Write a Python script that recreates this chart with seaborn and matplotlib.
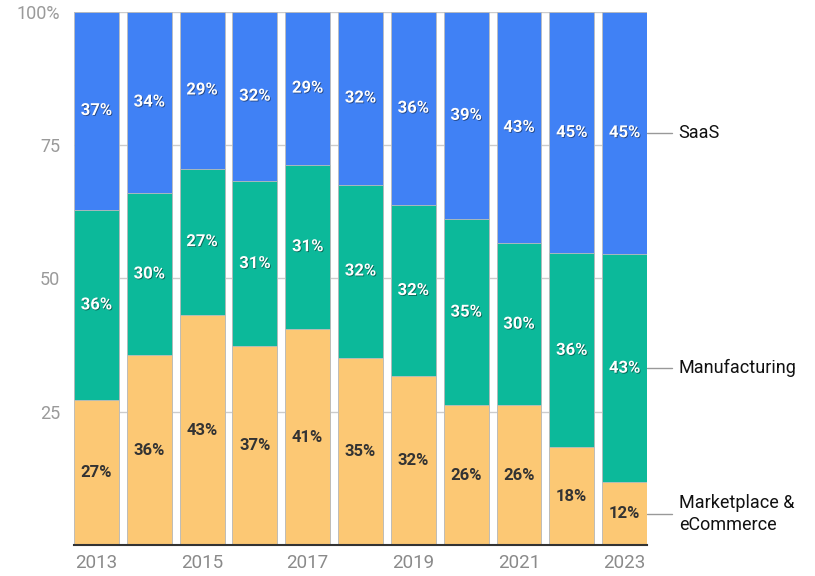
import numpy as np
import pandas as pd
import matplotlib.pyplot as plt
import matplotlib.patheffects as pe
import seaborn as sns

# datos (porcentaje por año)
anios = ["2013", "2014", "2015", "2016", "2017", "2018", "2019", "2020", "2021", "2022", "2023"]
marketplace = [27.2, 35.6, 43.2, 37.3, 40.6, 35.2, 31.7, 26.3, 26.3, 18.4, 11.8]
manufacturing = [35.7, 30.5, 27.4, 31.0, 30.7, 32.4, 32.1, 34.8, 30.3, 36.3, 42.8]
saas = [37.1, 33.9, 29.4, 31.7, 28.7, 32.4, 36.2, 38.9, 43.4, 45.3, 45.4]
series = ["Marketplace &\neCommerce", "Manufacturing", "SaaS"]
ticks_y = [25, 50, 75, 100]
etiquetas_y = ["25", "50", "75", "100%"]

col_mp = "#FCC874"
col_mfg = "#0CB99A"
col_saas = "#4081F5"

sns.set_theme(style="white")
plt.rcParams["font.family"] = ["Roboto", "DejaVu Sans"]

df = pd.DataFrame({"anio": anios, "mp": marketplace, "mfg": manufacturing, "saas": saas})
df["c1"] = df["mp"]
df["c2"] = df["mp"] + df["mfg"]
df["c3"] = df["c2"] + df["saas"]

fig = plt.figure(figsize=(8.15, 5.76), dpi=100)
ax = fig.add_axes([0.0908, 0.053, 0.7031, 0.927])

for col, color in [("c3", col_saas), ("c2", col_mfg), ("c1", col_mp)]:
    sns.barplot(data=df, x="anio", y=col, color=color, saturation=1, width=0.85,
                edgecolor="#bdbdbd", linewidth=0.6, ax=ax, zorder=2)

ax.set_xlim(-0.425, len(anios) - 1 + 0.425)
ax.set_ylim(0, 100)
ax.set_xlabel("")
ax.set_ylabel("")

# cuadricula
ax.set_yticks(ticks_y)
ax.set_yticklabels(etiquetas_y)
ax.yaxis.grid(True, color="#cccccc", linewidth=1, zorder=0)
ax.set_axisbelow(True)
ax.tick_params(axis="y", length=0, pad=10, labelsize=13, labelcolor="#9a9a9a")
ax.tick_params(axis="x", length=0, pad=6, labelsize=13.5, labelcolor="#8a8a8a")
ax.set_xticks(range(len(anios)))
ax.set_xticklabels([a if i % 2 == 0 else "" for i, a in enumerate(anios)])
for s in ["top", "right", "left"]:
    ax.spines[s].set_visible(False)
ax.spines["bottom"].set_color("#333333")
ax.spines["bottom"].set_linewidth(1.5)
ax.spines["bottom"].set_zorder(5)

# etiquetas de porcentaje
sombra = [pe.withSimplePatchShadow(offset=(0.6, -0.6), shadow_rgbFace="#000000", alpha=0.45)]
for i in range(len(anios)):
    ax.text(i, df["c1"][i] / 2, f"{marketplace[i]:.0f}%", ha="center", va="center",
            fontsize=12, fontweight="bold", color="#333333", zorder=4)
    ax.text(i, (df["c1"][i] + df["c2"][i]) / 2, f"{manufacturing[i]:.0f}%", ha="center",
            va="center", fontsize=12, fontweight="bold", color="white", zorder=4,
            path_effects=sombra)
    ax.text(i, (df["c2"][i] + df["c3"][i]) / 2, f"{saas[i]:.0f}%", ha="center",
            va="center", fontsize=12, fontweight="bold", color="white", zorder=4,
            path_effects=sombra)

# leyenda a la derecha del ultimo bloque
ult = len(anios) - 1
centros = [df["c1"][ult] / 2, (df["c1"][ult] + df["c2"][ult]) / 2,
           (df["c2"][ult] + df["c3"][ult]) / 2]
x0 = ult + 0.425
for nombre, yc in zip(series, centros):
    ax.plot([x0, x0 + 0.48], [yc, yc], color="#999999", linewidth=1, clip_on=False, zorder=1)
    ax.text(x0 + 0.6, yc, nombre, ha="left", va="center", fontsize=13, color="#111111",
            linespacing=1.25)

fig.savefig("out.png", dpi=100)
